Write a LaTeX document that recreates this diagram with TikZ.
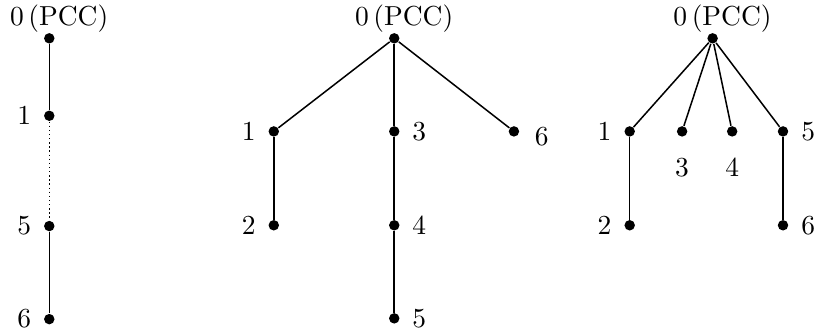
\documentclass[tikz,border=0pt]{standalone}
\usepackage{tikz}

\begin{document}
\begin{tikzpicture}[
    label distance=1pt,
    vertex/.style={circle, fill=black, inner sep=0pt, minimum size=3.8pt},
    root label/.style={inner sep=0pt, label distance=0pt, xshift=3.6pt},
    low label/.style={label distance=4pt},
    branch/.style={draw, black, line width=0.55pt},
  ]
    \useasboundingbox (0,0) rectangle (10.47,-4.28);

    % left feeder
    \node[vertex, label={[root label]above:$0\,$(PCC)}] (a0) at (0.63,-0.49) {};
    \node[vertex, label=left:1] (a1) at (0.63,-1.48) {};
    \node[vertex, label=left:5] (a5) at (0.63,-2.89) {};
    \node[vertex, label=left:6] (a6) at (0.63,-4.08) {};
    \draw[branch] (a0) -- (a1);
    \draw[branch, line width=0.5pt, densely dotted] (a1) -- (a5);
    \draw[branch] (a5) -- (a6);

    % middle tree
    \node[vertex, label={[root label]above:$0\,$(PCC)}] (b0) at (5.04,-0.49) {};
    \node[vertex, label=left:1] (b1) at (3.50,-1.68) {};
    \node[vertex, label=right:3] (b3) at (5.04,-1.68) {};
    \node[vertex, label={[yshift=-2pt, xshift=1pt]right:6}] (b6) at (6.57,-1.68) {};
    \node[vertex, label=left:2] (b2) at (3.50,-2.88) {};
    \node[vertex, label=right:4] (b4) at (5.04,-2.88) {};
    \node[vertex, label=right:5] (b5) at (5.04,-4.07) {};
    \draw[branch] (b0) -- (b1);
    \draw[branch] (b0) -- (b3);
    \draw[branch] (b0) -- (b6);
    \draw[branch] (b1) -- (b2);
    \draw[branch] (b3) -- (b4);
    \draw[branch] (b4) -- (b5);

    % right tree
    \node[vertex, label={[root label]above:$0\,$(PCC)}] (c0) at (9.11,-0.49) {};
    \node[vertex, label=left:1] (c1) at (8.05,-1.68) {};
    \node[vertex, label={[low label]below:3}] (c3) at (8.72,-1.68) {};
    \node[vertex, label={[low label]below:4}] (c4) at (9.36,-1.68) {};
    \node[vertex, label=right:5] (c5) at (10.01,-1.68) {};
    \node[vertex, label=left:2] (c2) at (8.05,-2.88) {};
    \node[vertex, label=right:6] (c6) at (10.01,-2.88) {};
    \draw[branch] (c0) -- (c1);
    \draw[branch] (c0) -- (c3);
    \draw[branch] (c0) -- (c4);
    \draw[branch] (c0) -- (c5);
    \draw[branch] (c1) -- (c2);
    \draw[branch] (c5) -- (c6);
\end{tikzpicture}
\end{document}
